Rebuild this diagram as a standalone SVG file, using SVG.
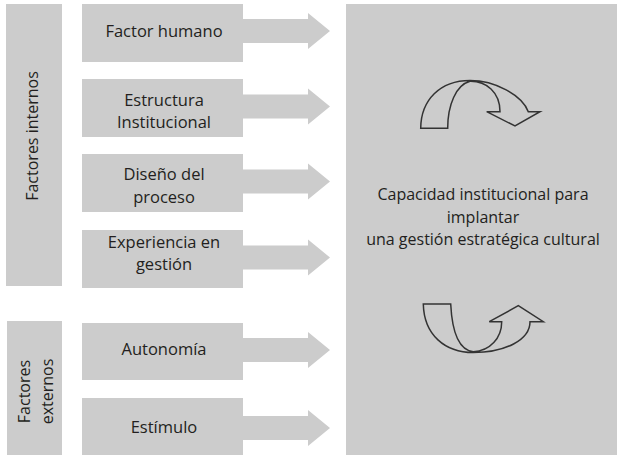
<svg xmlns="http://www.w3.org/2000/svg" width="617" height="455" viewBox="0 0 617 455">
<style>
.box{fill:#cccccc;}
.t{font-family:"Open Sans","Noto Sans","Liberation Sans",sans-serif;font-size:16.5px;fill:#231f20;text-anchor:middle;}
.c{font-size:16px;}
.curve{fill:none;stroke:#333333;stroke-width:1.5;stroke-linejoin:miter;}
</style>
<defs>
<path id="barrow" d="M0,-12 L65,-12 L65,-18 L87,0 L65,18 L65,12 L0,12 Z"/>
</defs>
<rect width="617" height="455" fill="#ffffff"/>
<g id="factores-internos">
<rect class="box" x="6" y="4" width="56" height="282"/>
<text class="t" font-size="16" transform="translate(38,136) rotate(-90)" style="font-size:16px">Factores internos</text>
</g>
<g id="factores-externos">
<rect class="box" x="7" y="321" width="55" height="134"/>
<text class="t" transform="translate(29.5,391.5) rotate(-90)" style="font-size:16px">Factores</text>
<text class="t" transform="translate(52.5,391.5) rotate(-90)" style="font-size:16px">externos</text>
</g>
<g id="capacidad">
<rect class="box" x="346" y="4" width="271" height="451"/>
<text class="t c" x="483" y="200">Capacidad institucional para</text>
<text class="t c" x="483" y="223">implantar</text>
<text class="t c" x="483" y="245">una gestión estratégica cultural</text>
<path class="curve" d="M420.7,128.3 L447.7,128.3 C447.7,105 456,85 470,81.3 C486,81 500,92 500,111.7 L486.7,111.7 L515,126 L540,111.7 L528.3,111.7 C522,95 495,80.5 470,80.5 C440,80.5 421,100 420.7,128.3 Z"/>
<path class="curve" d="M423.3,304 L450.7,304 C452,330 458,350 473.3,351.7 C490,351 501.7,338 501.7,321.7 L489.3,321.7 L518.3,305.7 L543.3,321.7 L530,321.7 C530,340 505,352.5 473.3,352.5 C445,352.5 424,335 423.3,304 Z"/>
</g>
<g id="factor-humano">
<rect class="box" x="82" y="4" width="161" height="58"/>
<text class="t" x="164" y="37">Factor humano</text>
</g>
<g id="estructura">
<rect class="box" x="82" y="79" width="161" height="58"/>
<text class="t" x="164" y="106">Estructura</text>
<text class="t" x="164" y="128">Institucional</text>
</g>
<g id="diseno">
<rect class="box" x="82" y="154" width="161" height="58"/>
<text class="t" x="164" y="180">Diseño del</text>
<text class="t" x="164" y="203">proceso</text>
</g>
<g id="experiencia">
<rect class="box" x="82" y="230" width="161" height="58"/>
<text class="t" x="164" y="248">Experiencia en</text>
<text class="t" x="164" y="270">gestión</text>
</g>
<g id="autonomia">
<rect class="box" x="82" y="323" width="161" height="57"/>
<text class="t" x="164" y="355">Autonomía</text>
</g>
<g id="estimulo">
<rect class="box" x="82" y="398" width="161" height="57"/>
<text class="t" x="164" y="433">Estímulo</text>
</g>
<g id="connectors" class="box">
<use href="#barrow" transform="translate(243,31)"/>
<use href="#barrow" transform="translate(243,106.5)"/>
<use href="#barrow" transform="translate(243,181.5)"/>
<use href="#barrow" transform="translate(243,257.5)"/>
<use href="#barrow" transform="translate(243,350)"/>
<use href="#barrow" transform="translate(243,428)"/>
</g>
</svg>
